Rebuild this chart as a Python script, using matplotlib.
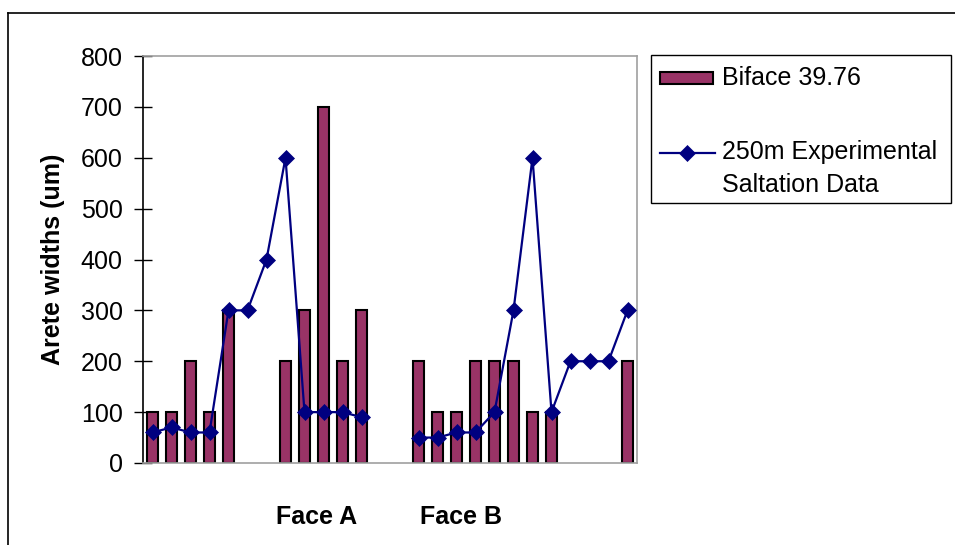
import numpy as np
import matplotlib
matplotlib.use("Agg")
import matplotlib.pyplot as plt
from matplotlib.patches import Rectangle
from matplotlib.lines import Line2D

plt.rcParams['font.family'] = ['Liberation Sans', 'DejaVu Sans']

nan = np.nan
# 26 category slots along the x axis (empty slots have no value)
biface = [100, 100, 200, 100, 300, nan, nan, 200, 300, 700, 200, 300, nan,
          nan, 200, 100, 100, 200, 200, 200, 100, 100, nan, nan, nan, 200]
saltation = [60, 70, 60, 60, 300, 300, 400, 600, 100, 100, 100, 90, nan,
             nan, 50, 50, 60, 60, 100, 300, 600, 100, 200, 200, 200, 300]
face_labels = ['Face A', 'Face B']
face_pos = [8.65, 16.25]
yticks = [0, 100, 200, 300, 400, 500, 600, 700, 800]

bar_color = '#993366'
line_color = '#000080'
W, H = 955, 545

fig = plt.figure(figsize=(W / 100, H / 100), dpi=100)
ax = fig.add_axes([143 / W, 1 - 463 / H, 494 / W, 407 / H])

x = np.arange(len(biface))
b = np.array(biface, dtype=float)
ok = ~np.isnan(b)
ax.bar(x[ok], b[ok], width=0.55, color=bar_color, edgecolor='black', linewidth=1.5, zorder=2)
ax.plot(x, saltation, color=line_color, lw=1.6, marker='D', ms=8, mew=0.5,
        mec=line_color, zorder=3)

ax.set_xlim(-0.5, len(biface) - 0.5)
ax.set_ylim(0, 800)
ax.set_yticks(yticks)
ax.tick_params(axis='y', direction='inout', length=13, width=1, labelsize=18, pad=8)
ax.set_xticks(face_pos)
ax.set_xticklabels(face_labels, fontsize=18, fontweight='bold')
ax.tick_params(axis='x', length=0, pad=30)
ax.set_ylabel('Arete widths (um)', fontsize=18, fontweight='bold', va='center')
ax.yaxis.set_label_coords(-0.182, 0.5)

for s in ['top', 'right', 'bottom']:
    ax.spines[s].set_color('#a0a0a0')
    ax.spines[s].set_linewidth(1.2)
ax.spines['left'].set_color('black')
ax.spines['left'].set_linewidth(1.2)

# outer chart frame (cut off at right and bottom)
fig.add_artist(Line2D([8 / W, 1], [1 - 13 / H] * 2, color='black', lw=1.2))
fig.add_artist(Line2D([8 / W] * 2, [0, 1 - 13 / H], color='black', lw=1.2))

# legend
fig.add_artist(Rectangle((651 / W, 1 - 203 / H), 300 / W, 148 / H, transform=fig.transFigure,
                         facecolor='white', edgecolor='black', lw=1))
fig.add_artist(Rectangle((660 / W, 1 - 84 / H), 53 / W, 12 / H, transform=fig.transFigure,
                         facecolor=bar_color, edgecolor='black', lw=1.5))
fig.text(722 / W, 1 - 78 / H, 'Biface 39.76', fontsize=18, va='center', ha='left')
fig.add_artist(Line2D([660 / W, 715 / W], [1 - 153 / H] * 2, color=line_color, lw=1.6))
fig.add_artist(Line2D([687 / W], [1 - 153 / H], color=line_color, marker='D', ms=8, mew=0.5))
fig.text(722 / W, 1 - 152 / H, '250m Experimental', fontsize=18, va='center', ha='left')
fig.text(722 / W, 1 - 185 / H, 'Saltation Data', fontsize=18, va='center', ha='left')

fig.savefig('out.png', dpi=100)
